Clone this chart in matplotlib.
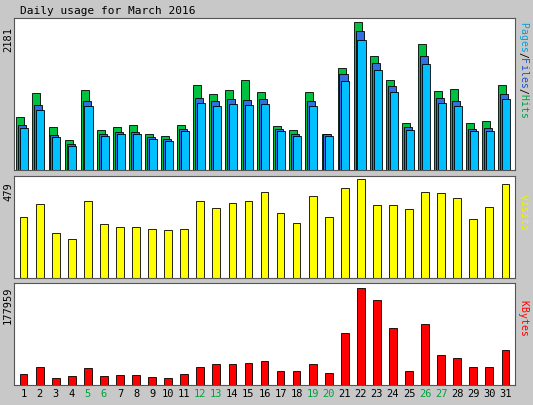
import matplotlib
matplotlib.use("Agg")
import matplotlib.pyplot as plt
import numpy as np

days = list(range(1, 32))
weekend = [5, 6, 12, 13, 19, 20, 26, 27]
hit_px = [116,92,125,138,89,128,125,123,132,134,123,84,93,89,79,91,124,128,91,132,67,22,55,79,121,43,90,88,121,120,84]
file_px = [123,104,133,142,100,132,130,130,135,137,127,97,100,98,99,98,127,132,100,132,73,30,62,85,125,55,97,100,127,126,93]
hits = [round((168-p)/146*2181) for p in hit_px]
files = [round((168-p)/146*2181) for p in file_px]
pages = [round(f*0.93) for f in files]
vis_px = [216,204,232,238,201,223,226,226,228,229,228,201,208,203,201,192,213,222,196,216,189,180,205,205,209,192,193,198,218,207,185]
visits = [round((275-p)/95*479) for p in vis_px]
kb_px = [372,365,376,374,366,374,373,373,375,376,372,365,362,362,361,360,369,369,362,371,332,288,300,327,369,323,354,357,365,365,349]
kbytes = [round((383-p)/95*177959) for p in kb_px]

W, H = 533, 405
fig = plt.figure(figsize=(W/100, H/100), dpi=100, facecolor="#c8c8c8")
mono = "DejaVu Sans Mono"

def ax_at(x0, y0, x1, y1):
    ax = fig.add_axes([x0/W, 1-y1/H, (x1-x0)/W, (y1-y0)/H])
    ax.set_facecolor("white")
    ax.set_xlim(0.4, 31.6)
    ax.set_xticks([])
    ax.set_yticks([])
    for s in ax.spines.values():
        s.set_color("#555555")
    return ax

x = np.array(days)
a1 = ax_at(14, 18, 515, 170)
a1.set_ylim(0, 2181*1.03)
a1.bar(x-0.2, hits, width=0.5, color="#00c040", edgecolor="black", lw=0.6)
a1.bar(x-0.08, files, width=0.5, color="#3070e0", edgecolor="black", lw=0.6)
a1.bar(x+0.04, pages, width=0.5, color="#00c0ff", edgecolor="black", lw=0.6)

a2 = ax_at(14, 176, 515, 278)
a2.set_ylim(0, 479*1.03)
a2.bar(x, visits, width=0.48, color="#ffff00", edgecolor="black", lw=0.6)

a3 = ax_at(14, 283, 515, 385)
a3.set_ylim(0, 177959*1.05)
a3.bar(x, kbytes, width=0.48, color="#ff0000", edgecolor="black", lw=0.6)

fig.text(20/W, 1-11/H, "Daily usage for March 2016", family=mono, fontsize=8, va="center")
for lab, yy in [("2181", 40), ("479", 192), ("177959", 305)]:
    fig.text(8/W, 1-yy/H, lab, family=mono, fontsize=7.5, rotation=90, ha="center", va="center")

def rlabel(parts, ycen):
    n = sum(len(p) for p, c in parts)
    step = 6.0
    y = ycen - n*step/2
    for p, c in parts:
        for ch in p:
            fig.text(523/W, 1-(y+step/2)/H, ch, family=mono, fontsize=7, rotation=270,
                     color=c, ha="center", va="center")
            y += step
rlabel([("Pages", "#00a0e0"), ("/", "black"), ("Files", "#2050d0"), ("/", "black"), ("Hits", "#00a040")], 70)
rlabel([("Visits", "#f0f000")], 212)
rlabel([("KBytes", "#ff0000")], 318)

for d in days:
    xp = 14 + (d-0.4)/31.2*(515-14)
    fig.text(xp/W, 1-394/H, str(d), family=mono, fontsize=7.5, ha="center", va="center",
             color="#00a040" if d in weekend else "black")

fig.savefig("out.png", dpi=100, facecolor=fig.get_facecolor())
